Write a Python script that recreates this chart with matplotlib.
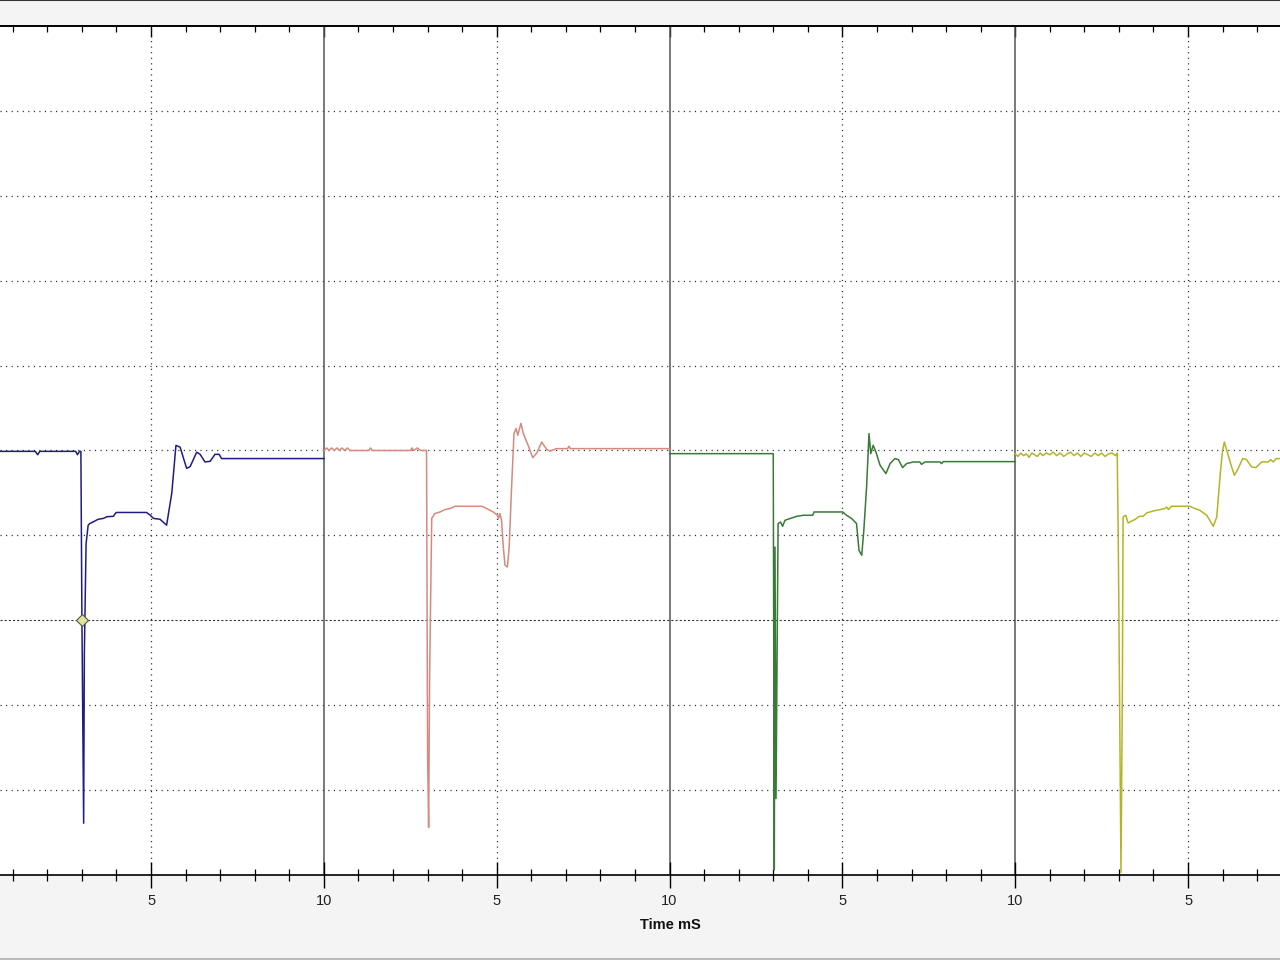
import matplotlib.pyplot as plt
from matplotlib.lines import Line2D
from matplotlib.ticker import MultipleLocator, FuncFormatter

# four 10 ms captures shown side by side, times in ms inside each capture
SEGMENT_MS = 10
X_VIEW = (0.63, 37.66)
Y_VIEW = (-3, 7)

blue_t = [0.0, 1.65, 1.72, 1.78, 2.82, 2.87, 2.93, 2.97, 3.00, 3.05, 3.07, 3.12,
          3.18, 3.23, 3.33, 3.47, 3.62, 3.72, 3.91, 3.99, 4.87, 4.97, 5.07, 5.26,
          5.45, 5.60, 5.72, 5.84, 5.93, 6.03, 6.13, 6.32, 6.42, 6.56, 6.71, 6.85,
          6.97, 7.04, 10.0]
blue_v = [1.99, 1.99, 1.95, 1.99, 1.99, 1.95, 1.99, 1.99, 0.00, -2.39, -0.40, 0.90,
          1.12, 1.14, 1.16, 1.19, 1.20, 1.22, 1.225, 1.27, 1.27, 1.24, 1.20, 1.19,
          1.12, 1.50, 2.06, 2.04, 1.92, 1.79, 1.81, 1.98, 1.955, 1.865, 1.873, 1.955,
          1.955, 1.905, 1.905]

red_t = [0.0, 0.08, 0.15, 0.22, 0.30, 0.38, 0.45, 0.52, 0.60, 0.68, 0.75, 0.85,
         1.30, 1.35, 1.40, 2.50, 2.55, 2.60, 2.70, 2.80, 2.97, 3.00, 3.03, 3.06,
         3.12, 3.21, 3.36, 3.50, 3.65, 3.79, 4.57, 4.71, 4.90, 5.02, 5.05, 5.09,
         5.14, 5.19, 5.24, 5.31, 5.36, 5.43, 5.50, 5.56, 5.61, 5.70, 5.77, 5.91,
         6.04, 6.16, 6.30, 6.45, 6.54, 6.73, 7.05, 7.09, 7.13, 10.0]
red_v = [2.0, 2.03, 2.0, 2.03, 2.0, 2.03, 2.0, 2.03, 2.0, 2.03, 2.0, 2.0,
         2.0, 2.03, 2.0, 2.0, 2.03, 2.0, 2.03, 2.0, 2.0, -1.6, -2.44, -0.6,
         1.20, 1.257, 1.276, 1.304, 1.316, 1.343, 1.343, 1.316, 1.276, 1.237, 1.198, 1.257,
         1.178, 0.863, 0.648, 0.628, 0.863, 1.57, 2.20, 2.26, 2.18, 2.32, 2.20, 2.06,
         1.916, 1.971, 2.10, 2.011, 1.994, 2.022, 2.022, 2.05, 2.022, 2.022]

green_t = [0.0, 3.00, 3.03, 3.05, 3.08, 3.14, 3.21, 3.27, 3.34, 3.48, 3.68, 3.87,
           4.14, 4.18, 5.01, 5.12, 5.27, 5.41, 5.48, 5.56, 5.62, 5.70, 5.77, 5.82,
           5.89, 5.97, 6.09, 6.26, 6.38, 6.52, 6.62, 6.74, 6.86, 7.05, 7.24, 7.29,
           7.39, 7.82, 7.87, 7.92, 10.0]
green_v = [1.963, 1.963, -2.94, 0.863, -2.10, 1.139, 1.158, 1.107, 1.178, 1.198, 1.225, 1.237,
           1.237, 1.276, 1.276, 1.237, 1.198, 1.139, 0.824, 0.766, 1.06, 1.57, 2.199, 1.963,
           2.061, 1.982, 1.826, 1.728, 1.846, 1.905, 1.893, 1.799, 1.846, 1.865, 1.865, 1.837,
           1.865, 1.865, 1.846, 1.869, 1.869]

yellow_t = [0.0, 0.08, 0.16, 0.24, 0.32, 0.40, 0.48, 0.56, 0.64, 0.72, 0.80, 0.90,
            1.00, 1.10, 1.20, 1.30, 1.40, 1.50, 1.60, 1.70, 1.80, 1.90, 2.00, 2.10,
            2.20, 2.30, 2.40, 2.50, 2.60, 2.70, 2.80, 2.90, 2.95, 2.98, 3.06, 3.10,
            3.12, 3.20, 3.24, 3.27, 3.37, 3.46, 3.59, 3.70, 3.80, 3.99, 4.19, 4.33,
            4.38, 4.43, 4.52, 5.05, 5.20, 5.34, 5.54, 5.73, 5.83, 5.94, 6.00, 6.05,
            6.12, 6.23, 6.34, 6.45, 6.58, 6.69, 6.84, 6.96, 7.13, 7.32, 7.39, 7.46,
            7.56, 7.66, 10.0]
yellow_v = [1.96, 1.93, 1.97, 1.94, 1.96, 1.92, 1.97, 1.95, 1.93, 1.97, 1.94, 1.97,
            1.95, 1.98, 1.94, 1.97, 1.93, 1.96, 1.98, 1.94, 1.97, 1.93, 1.97, 1.95,
            1.93, 1.97, 1.94, 1.97, 1.93, 1.96, 1.97, 1.94, 1.97, 1.0, -2.97, -0.8,
            1.217, 1.237, 1.178, 1.146, 1.17, 1.186, 1.225, 1.225, 1.264, 1.287, 1.304, 1.316,
            1.335, 1.304, 1.343, 1.343, 1.316, 1.296, 1.237, 1.107, 1.217, 1.767, 2.002, 2.10,
            2.002, 1.846, 1.708, 1.787, 1.905, 1.893, 1.806, 1.799, 1.865, 1.865, 1.893, 1.865,
            1.905, 1.905, 1.905]

trigger_t = 3.0
trigger_v = 0.0

traces = [
    (blue_t, blue_v, "#1e1e82"),
    (red_t, red_v, "#d58a7e"),
    (green_t, green_v, "#387a36"),
    (yellow_t, yellow_v, "#b4b42a"),
]

plt.rcParams["font.family"] = ["Liberation Sans", "DejaVu Sans"]
plt.rcParams["lines.scale_dashes"] = False

fig = plt.figure(figsize=(12.8, 9.6), dpi=100, facecolor="#f4f4f4")
ax = fig.add_axes([0, 85 / 960, 1, 849 / 960])
ax.set_facecolor("white")

# grid
for y in range(Y_VIEW[0] + 1, Y_VIEW[1]):
    if y == 0:
        ax.axhline(y, color="#333333", lw=0.8, ls=(0, (1.5, 1.5)), zorder=1)
    else:
        ax.axhline(y, color="#222222", lw=0.9, ls=(0, (0.8, 3.2)), zorder=1)
for k in range(4):
    ax.axvline(k * SEGMENT_MS + 5, color="#222222", lw=0.9, ls=(0, (0.8, 3.2)), zorder=1)
    if k > 0:
        ax.axvline(k * SEGMENT_MS, color="#555555", lw=1.1, zorder=1.5)

for k, (t, v, color) in enumerate(traces):
    xs = [k * SEGMENT_MS + ti for ti in t]
    ax.plot(xs, v, color=color, lw=1.1, zorder=3)

ax.plot(trigger_t, trigger_v, marker="D", ms=6, mfc="#e3e39a", mec="#555555",
        mew=0.8, zorder=4)

ax.set_xlim(*X_VIEW)
ax.set_ylim(*Y_VIEW)
ax.set_yticks([])
ax.spines["left"].set_visible(False)
ax.spines["right"].set_visible(False)
ax.spines["top"].set_linewidth(1.2)
ax.spines["bottom"].set_linewidth(1.2)

ax.xaxis.set_major_locator(MultipleLocator(5))
ax.xaxis.set_minor_locator(MultipleLocator(1))
ax.xaxis.set_major_formatter(
    FuncFormatter(lambda val, pos: f"{int(round(val)) % 10 or 10}"))
ax.tick_params(axis="x", which="major", direction="inout", length=19, width=1.0,
               labelsize=10.5, pad=4, colors="black", labelcolor="#222222")
ax.tick_params(axis="x", which="minor", direction="inout", length=9, width=0.9)

top = ax.secondary_xaxis("top")
top.xaxis.set_major_locator(MultipleLocator(5))
top.xaxis.set_minor_locator(MultipleLocator(1))
top.tick_params(axis="x", which="major", direction="in", length=8, width=1.0,
                labeltop=False)
top.tick_params(axis="x", which="minor", direction="in", length=4.5, width=0.9)
top.spines["top"].set_linewidth(1.2)

fig.text(670 / 1280, 1 - 925 / 960, "Time mS", ha="center", va="center",
         fontsize=10.5, fontweight="bold", color="#111111")

fig.add_artist(Line2D([0, 1], [0.9995, 0.9995], transform=fig.transFigure,
                      color="#333333", lw=1.5))
fig.add_artist(Line2D([0, 1], [0.0015, 0.0015], transform=fig.transFigure,
                      color="#bbbbbb", lw=1.5))

fig.savefig("out.png", dpi=100, facecolor=fig.get_facecolor())
